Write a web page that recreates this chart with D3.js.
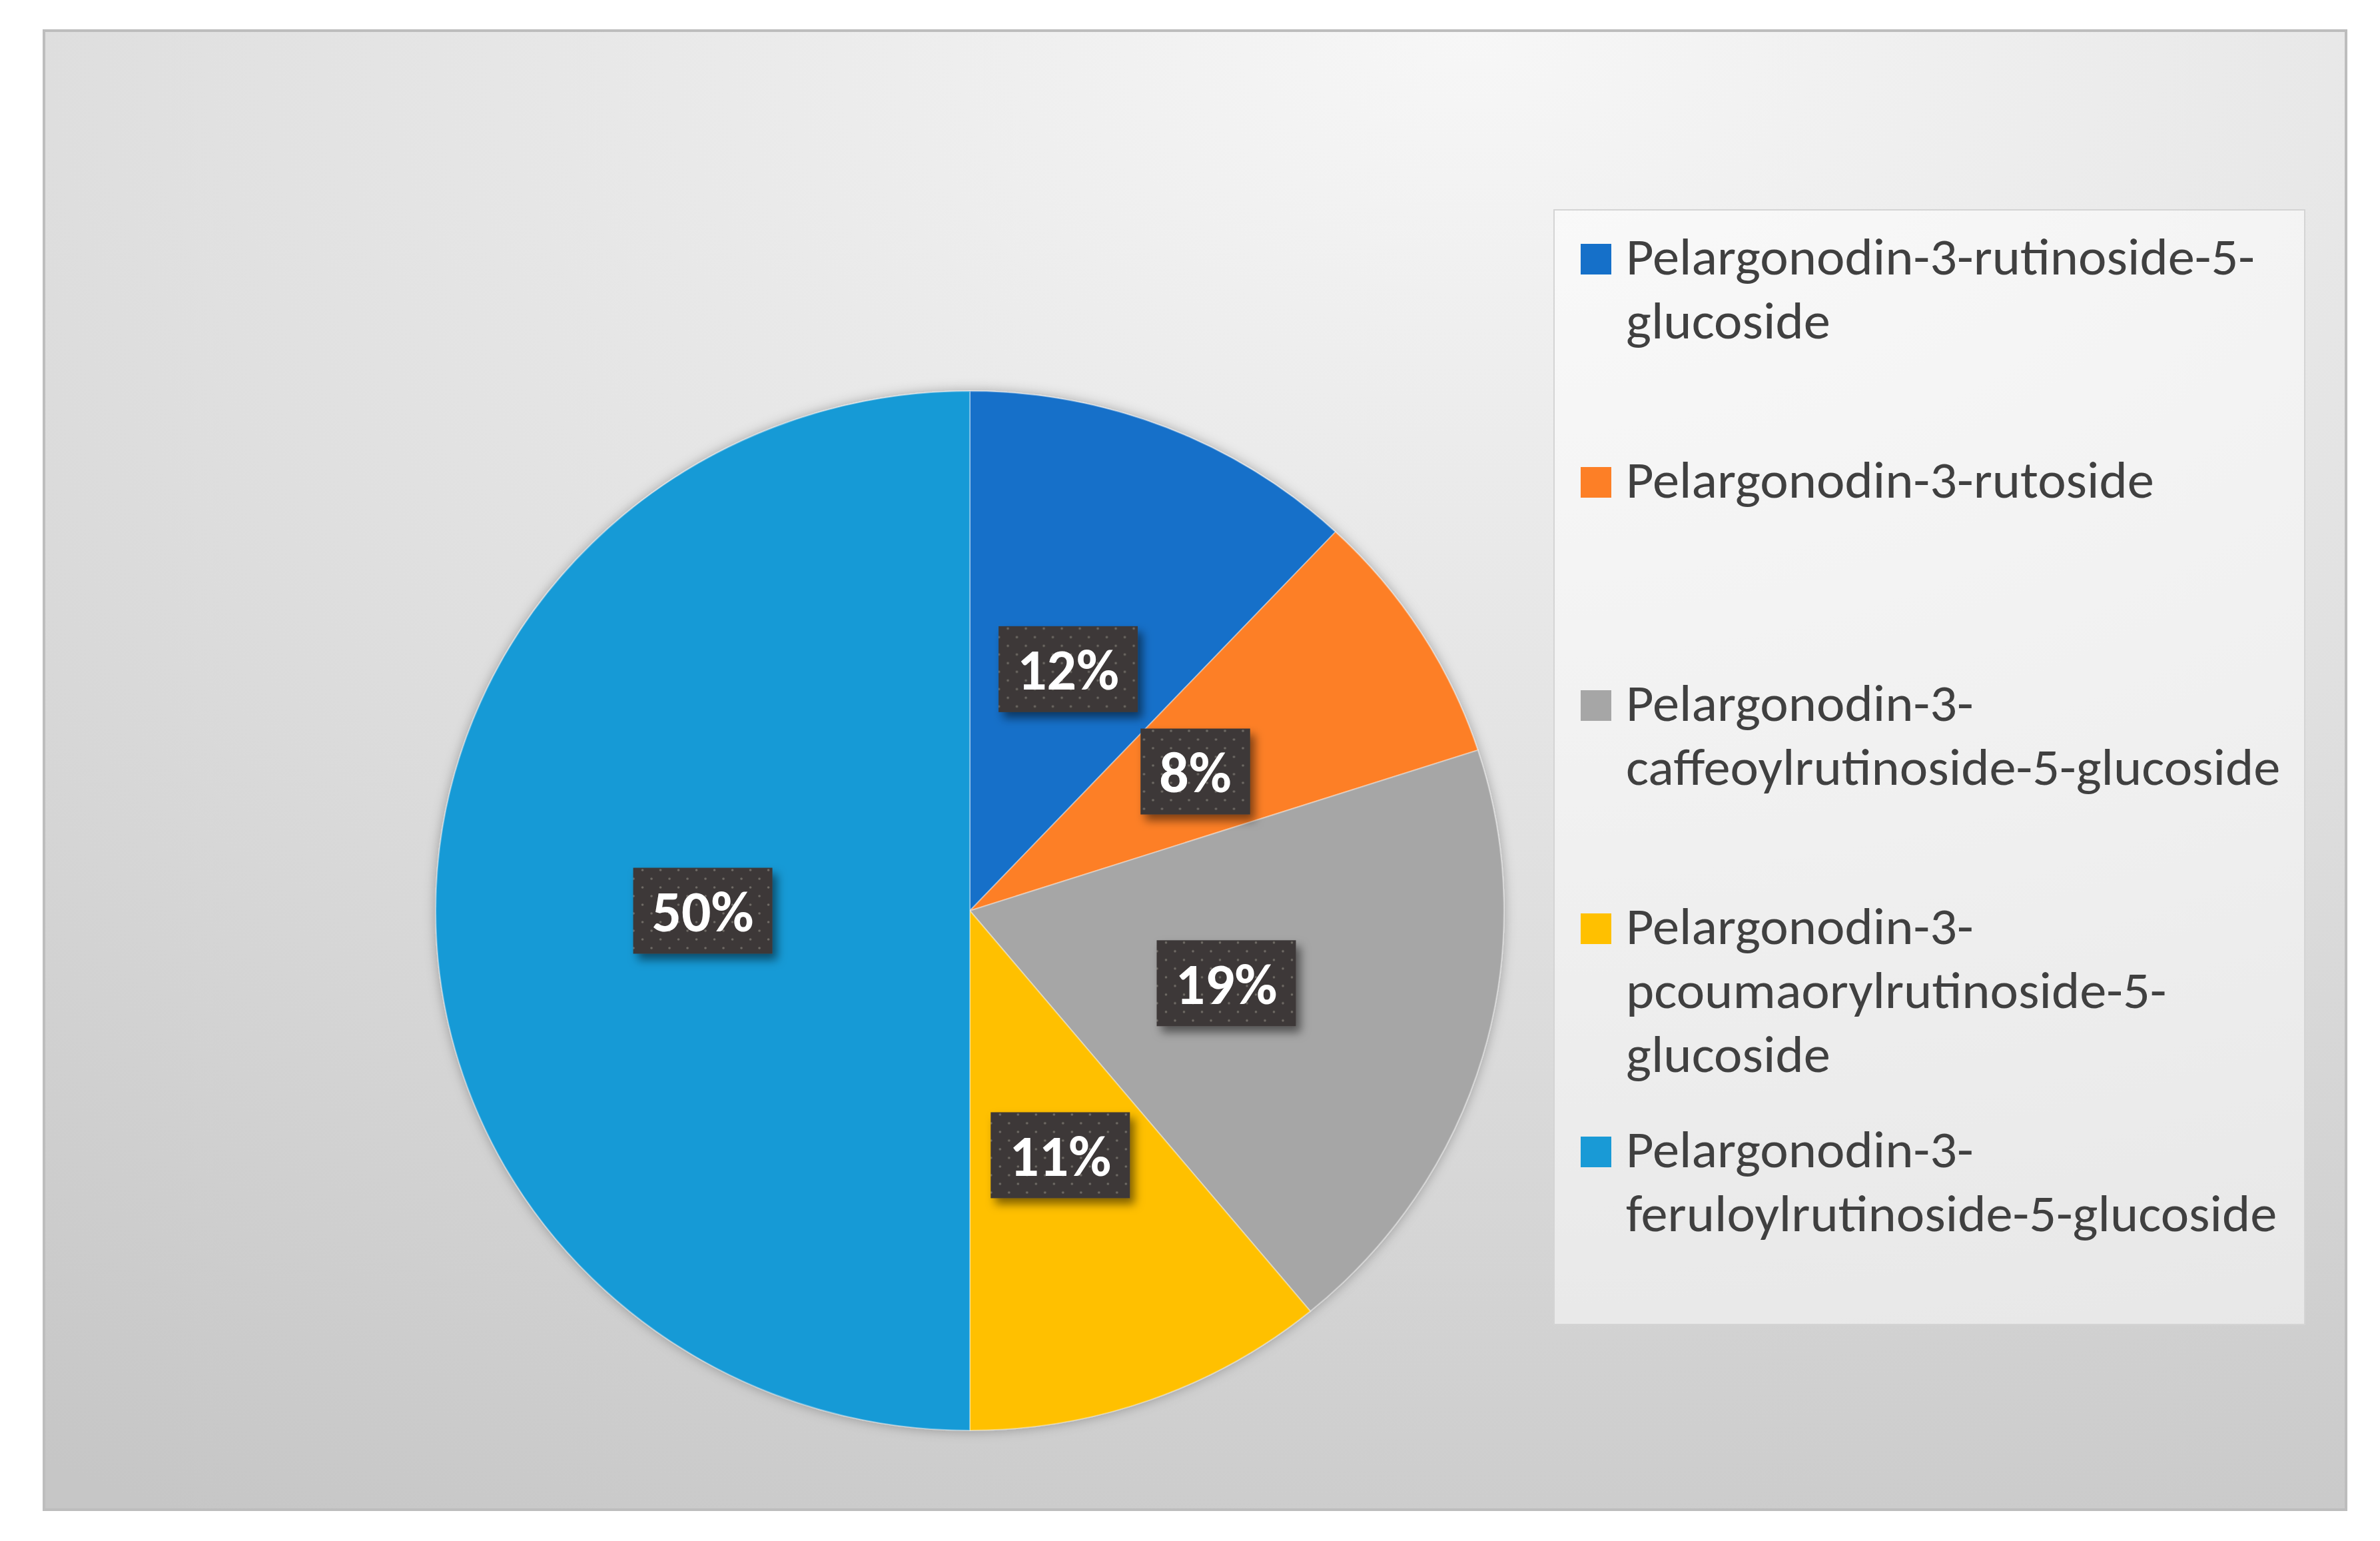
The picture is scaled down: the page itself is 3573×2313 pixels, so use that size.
<!DOCTYPE html>
<html><head><meta charset="utf-8">
<script src="https://cdn.jsdelivr.net/npm/d3@7"></script>
<style>html,body{margin:0;padding:0;background:#fff;overflow:hidden}</style>
</head><body>
<svg id="chart" width="3573" height="2313" xmlns="http://www.w3.org/2000/svg"></svg>
<script>
// ---- data ----
const categories = [
  "Pelargonodin-3-rutinoside-5-glucoside",
  "Pelargonodin-3-rutoside",
  "Pelargonodin-3-caffeoylrutinoside-5-glucoside",
  "Pelargonodin-3-pcoumaorylrutinoside-5-glucoside",
  "Pelargonodin-3-feruloylrutinoside-5-glucoside"
];
const values = [12, 8, 19, 11, 50];
const colors = ["#1570c9", "#fd7f26", "#a6a6a6", "#ffc000", "#199ad6"];

// ---- layout ----
const W = 3573, H = 2313;
const frame = {x: 66, y: 46, w: 3456, h: 2220};
const cx = 1456, cy = 1367, R = 780, sx = 1.028;
const legendBox = {x: 2333, y: 315, w: 1127, h: 1673};
const FONT = "Carlito, Lato, 'Open Sans', sans-serif";

const svg = d3.select("#chart");
const defs = svg.append("defs");

const bg = defs.append("radialGradient").attr("id", "bg")
  .attr("cx", 0.62).attr("cy", 0.0).attr("r", 1.15);
bg.append("stop").attr("offset", 0).attr("stop-color", "#f7f7f7");
bg.append("stop").attr("offset", 0.5).attr("stop-color", "#e0e0e0");
bg.append("stop").attr("offset", 1).attr("stop-color", "#c6c6c6");

const fPie = defs.append("filter").attr("id", "pieShadow")
  .attr("x", -0.1).attr("y", -0.1).attr("width", 1.2).attr("height", 1.2);
fPie.append("feDropShadow").attr("dx", 0).attr("dy", 0).attr("stdDeviation", 9)
  .attr("flood-color", "#000").attr("flood-opacity", 0.3);

const fLab = defs.append("filter").attr("id", "labShadow")
  .attr("x", -0.3).attr("y", -0.3).attr("width", 1.6).attr("height", 1.7);
fLab.append("feDropShadow").attr("dx", 7).attr("dy", 9).attr("stdDeviation", 7)
  .attr("flood-color", "#000").attr("flood-opacity", 0.5);

const pat = defs.append("pattern").attr("id", "dots")
  .attr("patternUnits", "userSpaceOnUse").attr("width", 27).attr("height", 26);
pat.append("rect").attr("width", 27).attr("height", 26).attr("fill", "#3d3937");
pat.append("circle").attr("cx", 4).attr("cy", 4).attr("r", 1.8).attr("fill", "#6f6a66");
pat.append("circle").attr("cx", 17.5).attr("cy", 17).attr("r", 1.8).attr("fill", "#6f6a66");

// frame
svg.append("rect").attr("x", frame.x).attr("y", frame.y)
  .attr("width", frame.w).attr("height", frame.h)
  .attr("fill", "url(#bg)").attr("stroke", "#bdbdbd").attr("stroke-width", 4);

// legend box
svg.append("rect").attr("x", legendBox.x).attr("y", legendBox.y)
  .attr("width", legendBox.w).attr("height", legendBox.h)
  .attr("fill", "#ffffff").attr("fill-opacity", 0.5)
  .attr("stroke", "#d4d4d4").attr("stroke-width", 2);

// pie
const pie = d3.pie().sort(null).value(d => d);
const arcs = pie(values);
const arc = d3.arc().innerRadius(0).outerRadius(R);
const pg = svg.append("g").attr("transform", `translate(${cx},${cy}) scale(${sx},1)`);
pg.append("g").attr("filter", "url(#pieShadow)")
  .selectAll("path").data(arcs).join("path")
  .attr("d", arc).attr("fill", (d, i) => colors[i])
  .attr("stroke", "rgba(255,255,255,0.35)").attr("stroke-width", 2);

// measure helper
const meas = svg.append("text").attr("x", -9999).attr("y", -9999);
function textW(str, size, weight) {
  meas.attr("font-family", FONT).attr("font-size", size).attr("font-weight", weight).text(str);
  return meas.node().getComputedTextLength();
}

// data labels
const total = d3.sum(values);
const fmt = d3.format(".0%");
const labSize = 88;
const labScale = 153 / textW("12%", labSize, "bold");
const lg = svg.append("g");
arcs.forEach((d, i) => {
  const [x0, y0] = arc.centroid(d);
  const px = cx + x0 * sx, py = cy + y0;
  const str = fmt(d.data / total);
  const tw = textW(str, labSize, "bold") * labScale;
  const bw = tw + 56, bh = 129;
  const g = lg.append("g").attr("transform", `translate(${px},${py})`);
  g.append("rect").attr("x", -bw / 2).attr("y", -bh / 2).attr("width", bw).attr("height", bh)
    .attr("fill", "url(#dots)").attr("filter", "url(#labShadow)");
  g.append("text").attr("transform", `scale(${labScale},1)`)
    .attr("x", 0).attr("y", 31).attr("text-anchor", "middle")
    .attr("font-family", FONT).attr("font-weight", "bold").attr("font-size", labSize)
    .attr("fill", "#ffffff").text(str);
});

// legend
const legSize = 78;
const legScale = 944 / textW("Pelargonodin-3-rutinoside-5-", legSize, "normal");
const textX = 2441, swX = 2373, sw = 46;
const firstBase = 412, itemStep = 335, lineH = 96;
const maxW = legendBox.x + legendBox.w - textX - 15;
function wrap(name) {
  const toks = name.match(/[^-]+-?/g);
  const lines = [];
  let cur = "";
  toks.forEach(t => {
    const test = cur + t;
    if (cur && textW(test, legSize, "normal") * legScale > maxW) { lines.push(cur); cur = t; }
    else cur = test;
  });
  if (cur) lines.push(cur);
  return lines;
}
const leg = svg.append("g");
categories.forEach((c, i) => {
  const base = firstBase + i * itemStep;
  leg.append("rect").attr("x", swX).attr("y", base - sw).attr("width", sw).attr("height", sw)
    .attr("fill", colors[i]);
  wrap(c).forEach((ln, j) => {
    leg.append("text").attr("transform", `translate(${textX},${base + j * lineH}) scale(${legScale},1)`)
      .attr("font-family", FONT).attr("font-size", legSize).attr("fill", "#404040").text(ln);
  });
});
meas.remove();
</script>
</body></html>
